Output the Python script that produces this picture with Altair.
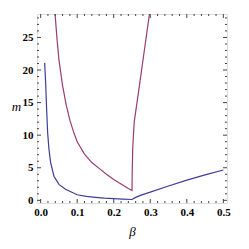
import altair as alt
import pandas as pd

# ---- data ----
blue_beta = [0.0109, 0.0137, 0.0164, 0.0191, 0.0228, 0.0273, 0.0364, 0.05, 0.068, 0.1,
             0.125, 0.15, 0.175, 0.2, 0.225, 0.25, 0.26, 0.275, 0.3, 0.35, 0.4, 0.45, 0.5]
blue_m = [21.1, 18.0, 13.9, 10.4, 7.8, 5.8, 3.7, 2.45, 1.7, 0.85,
          0.6, 0.45, 0.33, 0.25, 0.18, 0.13, 0.45, 0.8, 1.25, 2.2, 3.1, 3.9, 4.65]

red_beta = [0.0375, 0.04, 0.045, 0.05, 0.06, 0.07, 0.08, 0.09, 0.1, 0.12, 0.14, 0.16,
            0.18, 0.2, 0.22, 0.24, 0.25, 0.2505, 0.252, 0.256, 0.27, 0.285, 0.3]
red_m = [29.5, 28.2, 24.6, 21.6, 17.6, 14.6, 12.3, 10.5, 9.0, 7.1, 5.8, 4.9,
         4.0, 3.2, 2.5, 1.8, 1.5, 4.0, 8.0, 12.0, 17.5, 23.5, 29.5]

x_labels = [0.0, 0.1, 0.2, 0.3, 0.4, 0.5]
y_labels = [0, 5, 10, 15, 20, 25]
x_minor = [0.02, 0.04, 0.06, 0.08, 0.12, 0.14, 0.16, 0.18, 0.22, 0.24,
           0.26, 0.28, 0.32, 0.34, 0.36, 0.38, 0.42, 0.44, 0.46, 0.48]
y_minor = [1, 2, 3, 4, 6, 7, 8, 9, 11, 12, 13, 14, 16, 17, 18, 19, 21, 22, 23, 24, 26, 27, 28]

df = pd.concat([
    pd.DataFrame({"beta": blue_beta, "m": blue_m, "series": "blue"}),
    pd.DataFrame({"beta": red_beta, "m": red_m, "series": "red"}),
])

W, H = 190, 189
FRAME = "#444444"
X0, X1 = -0.01, 0.51
Y0, Y1 = -0.41, 28.6
xs = alt.Scale(domain=[X0, X1], nice=False, zero=False)
ys = alt.Scale(domain=[Y0, Y1], nice=False, zero=False)
color = alt.Color("series:N", scale=alt.Scale(domain=["blue", "red"],
                  range=["#3d3d99", "#993d71"]), legend=None)

lab_font = dict(labelFont="Liberation Serif", labelFontWeight="bold", labelFontSize=11,
                labelColor="black")

ax_x = alt.Axis(values=x_labels, format=".1f", ticks=False, domain=False,
                grid=False, labelPadding=3, title="β", titleFont="Liberation Serif",
                titleFontStyle="italic", titleFontWeight="normal", titleFontSize=13,
                titleColor="black", titleBaseline="middle", titleY=28, **lab_font)
ax_y = alt.Axis(values=y_labels, format="d", ticks=False, domain=False,
                grid=False, labelPadding=4, title="m", titleFont="Liberation Serif",
                titleFontStyle="italic", titleFontWeight="normal", titleFontSize=13,
                titleColor="black", titleAngle=0, titleAlign="center",
                titleBaseline="middle", titleX=-21, titleY=H / 2 - 2, **lab_font)

lines = alt.Chart(df).mark_line(clip=True, strokeWidth=1.2).encode(
    x=alt.X("beta:Q", scale=xs, axis=ax_x),
    y=alt.Y("m:Q", scale=ys, axis=ax_y),
    color=color,
    detail="series:N",
)

# inward frame ticks: lengths in pixels converted to data units of each scale
px_x = (X1 - X0) / W
px_y = (Y1 - Y0) / H
xt_rows = []
for vals, size in ((x_labels, 4), (x_minor, 2)):
    for v in vals:
        xt_rows.append({"beta": v, "a": Y0, "b": Y0 + size * px_y})
        xt_rows.append({"beta": v, "a": Y1, "b": Y1 - size * px_y})
yt_rows = []
for vals, size in ((y_labels, 4), (y_minor, 2)):
    for v in vals:
        yt_rows.append({"m": v, "a": X0, "b": X0 + size * px_x})
        yt_rows.append({"m": v, "a": X1, "b": X1 - size * px_x})

xticks = alt.Chart(pd.DataFrame(xt_rows)).mark_rule(color=FRAME, strokeWidth=1).encode(
    x=alt.X("beta:Q", scale=xs, axis=ax_x),
    y=alt.Y("a:Q", scale=ys, axis=ax_y),
    y2="b:Q",
)
yticks = alt.Chart(pd.DataFrame(yt_rows)).mark_rule(color=FRAME, strokeWidth=1).encode(
    y=alt.Y("m:Q", scale=ys, axis=ax_y),
    x=alt.X("a:Q", scale=xs, axis=ax_x),
    x2="b:Q",
)

chart = alt.layer(lines, xticks, yticks).properties(
    width=W, height=H,
    autosize=alt.AutoSizeParams(type="none"),
    padding={"left": 29, "top": 6, "right": 14, "bottom": 40},
).configure_view(stroke=FRAME, strokeWidth=1.2).configure(background="white")

chart.save("out.html", embed_options={"renderer": "svg", "actions": False})
